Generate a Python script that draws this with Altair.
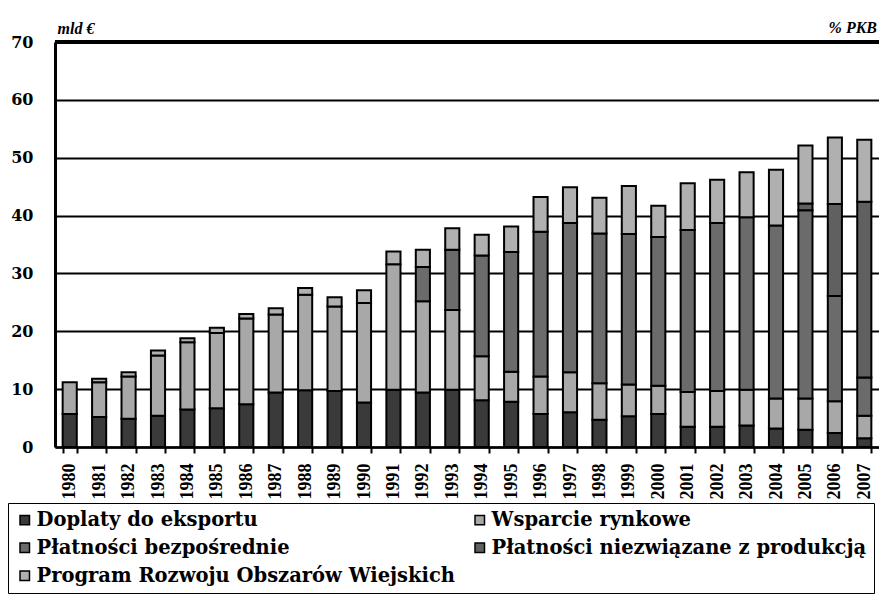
import altair as alt
import pandas as pd

years = [str(y) for y in range(1980, 2008)]
series_names = [
    "Doplaty do eksportu",
    "Wsparcie rynkowe",
    "Płatności bezpośrednie",
    "Płatności niezwiązane z produkcją",
    "Program Rozwoju Obszarów Wiejskich",
]
series_colors = ["#3a3a3a", "#a8a8a8", "#6b6b6b", "#606060", "#b0b0b0"]

export_subsidies = [5.7, 5.2, 4.9, 5.4, 6.5, 6.7, 7.4, 9.4, 9.8, 9.7, 7.7, 9.9, 9.4, 9.9,
                    8.1, 7.8, 5.7, 6.0, 4.7, 5.3, 5.7, 3.5, 3.5, 3.7, 3.2, 3.0, 2.4, 1.5]
market_support = [5.5, 6.0, 7.3, 10.4, 11.6, 13.0, 14.8, 13.5, 16.5, 14.6, 17.2, 21.7, 15.8, 13.8,
                  7.6, 5.2, 6.5, 6.9, 6.3, 5.5, 4.9, 6.0, 6.2, 6.2, 5.2, 5.4, 5.5, 3.9]
direct_payments = [0, 0, 0, 0, 0, 0, 0, 0, 0, 0, 0, 0, 5.9, 10.4,
                   17.4, 20.7, 25.0, 25.8, 25.9, 26.0, 25.7, 28.0, 29.0, 29.8, 29.9, 32.5, 18.2, 6.6]
decoupled_payments = [0, 0, 0, 0, 0, 0, 0, 0, 0, 0, 0, 0, 0, 0,
                      0, 0, 0, 0, 0, 0, 0, 0, 0, 0, 0, 1.2, 15.9, 30.4]
rural_development = [0, 0.6, 0.7, 0.9, 0.7, 0.9, 0.8, 1.1, 1.2, 1.6, 2.2, 2.2, 3.0, 3.7,
                     3.6, 4.4, 6.0, 6.2, 6.2, 8.3, 5.4, 8.1, 7.5, 7.8, 9.6, 10.0, 11.5, 10.7]

right_label = ["% PKB"]

all_series = [export_subsidies, market_support, direct_payments, decoupled_payments, rural_development]

rows = []
for si, (name, vals) in enumerate(zip(series_names, all_series)):
    for y, v in zip(years, vals):
        if v > 0:
            rows.append({"rok": y, "seria": name, "wartosc": v, "kolejnosc": si})
df = pd.DataFrame(rows)

serif = "DejaVu Serif"

bars = alt.Chart(df).mark_bar(stroke="black", strokeWidth=2).encode(
    x=alt.X("rok:N", sort=years, title=None,
            scale=alt.Scale(paddingInner=0.52, paddingOuter=0.26),
            axis=alt.Axis(labelAngle=270, labelAlign="right", labelBaseline="middle",
                          labelFont="Liberation Serif", labelFontWeight="bold", labelFontSize=18,
                          labelColor="black", labelPadding=10,
                          tickBand="extent", tickColor="black", tickWidth=2, tickSize=6,
                          domainColor="black", domainWidth=2.5, grid=False)),
    y=alt.Y("wartosc:Q", stack="zero",
            scale=alt.Scale(domain=[0, 70], nice=False),
            axis=alt.Axis(values=[0, 10, 20, 30, 40, 50, 60, 70],
                          title="mld €", titleAngle=0, titleAlign="left", titleBaseline="alphabetic",
                          titleX=2, titleY=-9, titleFont="Liberation Serif", titleFontStyle="italic",
                          titleFontWeight="bold", titleFontSize=16, titleColor="black",
                          labelFont=serif, labelFontWeight="bold", labelFontSize=16, labelColor="black",
                          labelPadding=22, ticks=False,
                          domainColor="black", domainWidth=3,
                          grid=True, gridColor="black", gridWidth=2)),
    color=alt.Color("seria:N", title=None,
                    scale=alt.Scale(domain=series_names, range=series_colors),
                    legend=alt.Legend(orient="none", legendX=-47, legendY=461, columns=2,
                                      direction="horizontal",
                                      strokeColor="black", fillColor="white", padding=7,
                                      labelFont=serif, labelFontWeight="bold", labelFontSize=19.5,
                                      labelColor="black", labelLimit=700, labelOffset=2,
                                      symbolType="square", symbolSize=90,
                                      symbolStrokeColor="black", symbolStrokeWidth=1.5,
                                      rowPadding=7, columnPadding=14)),
    order=alt.Order("kolejnosc:Q", sort="ascending"),
)

top_rule = alt.Chart(df).mark_rule(color="black", strokeWidth=3.5).encode(y=alt.datum(70))

pkb = alt.Chart(pd.DataFrame({"t": right_label})).mark_text(
    font="Liberation Serif", fontStyle="italic", fontWeight="bold", fontSize=16,
    color="black", align="right", baseline="alphabetic",
).encode(text="t:N", x=alt.value(822), y=alt.value(-9))

chart = alt.layer(bars, top_rule, pkb).properties(
    width=824,
    height=405,
    padding={"left": 47, "top": 34, "right": 0, "bottom": 148},
    autosize=alt.AutoSizeParams(type="none"),
).configure_view(stroke=None)

chart.save("out.html", embed_options={"renderer": "svg", "actions": False})
